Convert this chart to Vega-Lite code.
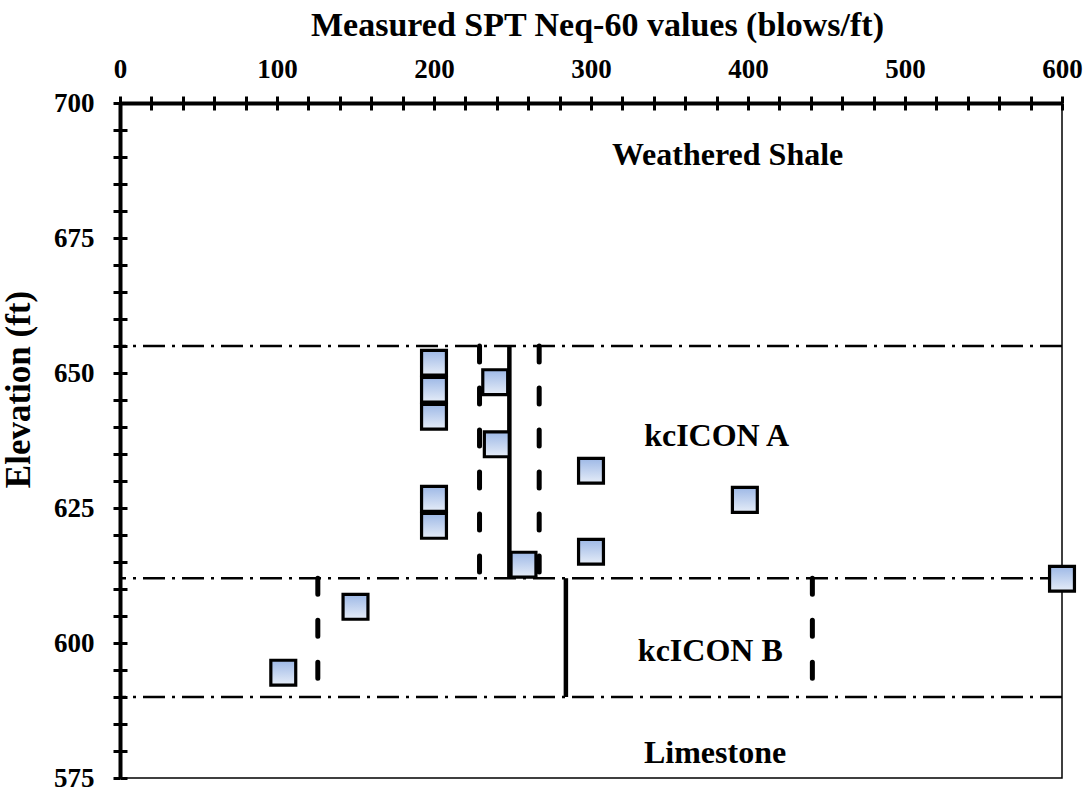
{
  "$schema": "https://vega.github.io/schema/vega-lite/v6.json",
  "width": 942,
  "height": 675,
  "autosize": {"type": "none"},
  "padding": {"left": 120, "top": 103, "right": 29, "bottom": 13},
  "background": "white",
  "config": {
    "view": {"stroke": "black", "strokeWidth": 1.5},
    "font": "Liberation Serif",
    "axis": {"grid": false, "domainColor": "black", "tickColor": "black", "labelColor": "black", "titleColor": "black", "zindex": 1}
  },
  "datasets": {
    "spt": [
      {"n": 200, "elev": 651.9},
      {"n": 200, "elev": 646.9},
      {"n": 200, "elev": 641.9},
      {"n": 239, "elev": 648.3},
      {"n": 240, "elev": 636.8},
      {"n": 200, "elev": 626.7},
      {"n": 200, "elev": 621.7},
      {"n": 257, "elev": 614.5},
      {"n": 300, "elev": 631.9},
      {"n": 300, "elev": 616.9},
      {"n": 398, "elev": 626.5},
      {"n": 600, "elev": 611.9},
      {"n": 150, "elev": 606.7},
      {"n": 104, "elev": 594.5}
    ],
    "boundaries": [
      {"elev": 655},
      {"elev": 612},
      {"elev": 590}
    ],
    "lines": [
      {"layer": "kcICON A", "kind": "mean", "n": 248, "top": 655, "bottom": 612},
      {"layer": "kcICON A", "kind": "bound", "n": 229, "top": 655, "bottom": 612},
      {"layer": "kcICON A", "kind": "bound", "n": 267, "top": 655, "bottom": 612},
      {"layer": "kcICON B", "kind": "mean", "n": 284, "top": 612, "bottom": 590},
      {"layer": "kcICON B", "kind": "bound", "n": 126, "top": 612, "bottom": 592},
      {"layer": "kcICON B", "kind": "bound", "n": 441, "top": 612, "bottom": 592}
    ],
    "labels": [
      {"text": "Weathered Shale", "n": 387, "elev": 688.5},
      {"text": "kcICON A", "n": 380, "elev": 636.4},
      {"text": "kcICON B", "n": 376, "elev": 596.7},
      {"text": "Limestone", "n": 379, "elev": 577.8}
    ]
  },
  "resolve": {"axis": {"x": "independent", "y": "independent"}},
  "layer": [
    {
      "data": {"name": "boundaries"},
      "mark": {"type": "rule", "stroke": "black", "strokeWidth": 2.5, "strokeDash": [22, 7, 3, 7]},
      "encoding": {
        "y": {
          "field": "elev", "type": "quantitative",
          "scale": {"domain": [575, 700], "nice": false, "zero": false},
          "axis": {
            "orient": "left",
            "values": [575,580,585,590,595,600,605,610,615,620,625,630,635,640,645,650,655,660,665,670,675,680,685,690,695,700],
            "labelExpr": "datum.value % 25 === 0 ? datum.label : ''",
            "domainWidth": 4, "tickWidth": 3, "tickSize": 7,
            "labelFontSize": 27, "labelFontWeight": "bold", "labelPadding": 19,
            "labelFont": "Liberation Serif",
            "title": "Elevation (ft)",
            "titleFont": "Liberation Serif", "titleFontSize": 35, "titleFontWeight": "bold",
            "titleAngle": -90, "titleBaseline": "alphabetic", "titleAlign": "center",
            "titleX": -91, "titleY": 286
          }
        }
      }
    },
    {
      "data": {"name": "lines"},
      "transform": [{"filter": "datum.kind === 'mean'"}],
      "mark": {"type": "rule", "stroke": "black", "strokeWidth": 4.5},
      "encoding": {
        "x": {
          "field": "n", "type": "quantitative",
          "scale": {"domain": [0, 600], "nice": false, "zero": false},
          "axis": {
            "orient": "top",
            "values": [0,20,40,60,80,100,120,140,160,180,200,220,240,260,280,300,320,340,360,380,400,420,440,460,480,500,520,540,560,580,600],
            "labels": false, "domain": false, "title": null,
            "tickSize": -7, "tickWidth": 3
          }
        },
        "y": {
          "field": "top", "type": "quantitative",
          "scale": {"domain": [575, 700], "nice": false, "zero": false},
          "axis": {
            "orient": "left",
            "values": [575,580,585,590,595,600,605,610,615,620,625,630,635,640,645,650,655,660,665,670,675,680,685,690,695,700],
            "labels": false, "domain": false, "title": null,
            "tickSize": -7, "tickWidth": 3
          }
        },
        "y2": {"field": "bottom"}
      }
    },
    {
      "data": {"name": "lines"},
      "transform": [{"filter": "datum.kind === 'bound'"}],
      "mark": {"type": "rule", "stroke": "black", "strokeWidth": 5, "strokeDash": [16, 26], "strokeCap": "round"},
      "encoding": {
        "x": {"field": "n", "type": "quantitative", "scale": {"domain": [0, 600], "nice": false, "zero": false}, "axis": null},
        "y": {"field": "top", "type": "quantitative", "scale": {"domain": [575, 700], "nice": false, "zero": false}, "axis": null},
        "y2": {"field": "bottom"}
      }
    },
    {
      "data": {"name": "spt"},
      "mark": {
        "type": "point", "shape": "square", "filled": true, "size": 620, "opacity": 1,
        "stroke": "black", "strokeWidth": 3.2, "strokeOpacity": 1,
        "fill": {"gradient": "linear", "x1": 0, "y1": 0, "x2": 0, "y2": 1,
          "stops": [{"offset": 0, "color": "#9db8e6"}, {"offset": 1, "color": "#e6edf8"}]}
      },
      "encoding": {
        "x": {
          "field": "n", "type": "quantitative",
          "scale": {"domain": [0, 600], "nice": false, "zero": false},
          "axis": {
            "orient": "top",
            "values": [0,20,40,60,80,100,120,140,160,180,200,220,240,260,280,300,320,340,360,380,400,420,440,460,480,500,520,540,560,580,600],
            "labelExpr": "datum.value % 100 === 0 ? datum.label : ''",
            "domainWidth": 4, "tickWidth": 3, "tickSize": 7,
            "labelFontSize": 27, "labelFontWeight": "bold", "labelFont": "Liberation Serif",
            "labelBaseline": "alphabetic", "labelPadding": 19, "labelFlush": false, "labelOverlap": false,
            "title": "Measured SPT Neq-60 values (blows/ft)",
            "titleFont": "Liberation Serif", "titleFontSize": 34, "titleFontWeight": "bold",
            "titleBaseline": "alphabetic", "titleX": 477, "titleY": -68
          }
        },
        "y": {"field": "elev", "type": "quantitative", "scale": {"domain": [575, 700], "nice": false, "zero": false}, "axis": null}
      }
    },
    {
      "data": {"name": "labels"},
      "mark": {"type": "text", "font": "Liberation Serif", "fontSize": 32, "fontWeight": "bold", "align": "center", "baseline": "alphabetic", "color": "black"},
      "encoding": {
        "x": {"field": "n", "type": "quantitative", "scale": {"domain": [0, 600], "nice": false, "zero": false}, "axis": null},
        "y": {"field": "elev", "type": "quantitative", "scale": {"domain": [575, 700], "nice": false, "zero": false}, "axis": null},
        "text": {"field": "text"}
      }
    }
  ]
}
